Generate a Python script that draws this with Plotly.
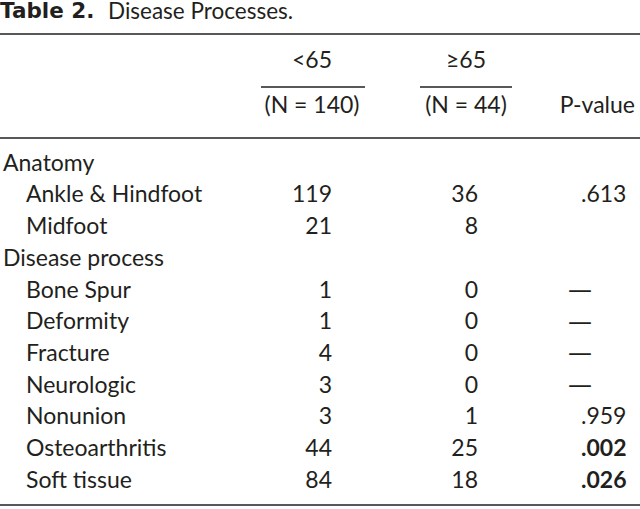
import plotly.graph_objects as go

# ---- data ----
title_bold = "Table 2."
title_text = "Disease Processes."
group_labels = ["<65", "≥65"]
group_n = ["(N = 140)", "(N = 44)"]
p_header = "P-value"

row_labels = ["Anatomy", "Ankle & Hindfoot", "Midfoot", "Disease process",
              "Bone Spur", "Deformity", "Fracture", "Neurologic",
              "Nonunion", "Osteoarthritis", "Soft tissue"]
is_group = [True, False, False, True, False, False, False, False, False, False, False]
under65 = [None, 119, 21, None, 1, 1, 4, 3, 3, 44, 84]
over65 = [None, 36, 8, None, 0, 0, 0, 0, 1, 25, 18]
p_values = ["", ".613", "", "", "—", "—", "—", "—", ".959", ".002", ".026"]
p_bold = [False, False, False, False, False, False, False, False, False, True, True]

# ---- layout constants ----
W, H = 640, 509
FONT = "Lato"
FS = 23
COLOR = "#231f20"
row_top, row_h = 165, 31.7
ys = [row_top + i * row_h for i in range(len(row_labels))]
tf = dict(family=FONT, size=FS, color=COLOR)

fig = go.Figure()

# row labels
fig.add_trace(go.Scatter(
    x=[3 if g else 26 for g in is_group], y=ys, mode="text",
    text=row_labels, textposition="middle right", textfont=tf, hoverinfo="skip"))

# <65 column (right aligned)
idx1 = [i for i, v in enumerate(under65) if v is not None]
fig.add_trace(go.Scatter(
    x=[332] * len(idx1), y=[ys[i] for i in idx1], mode="text",
    text=[str(under65[i]) for i in idx1], textposition="middle left",
    textfont=tf, hoverinfo="skip"))

# >=65 column
idx2 = [i for i, v in enumerate(over65) if v is not None]
fig.add_trace(go.Scatter(
    x=[478] * len(idx2), y=[ys[i] for i in idx2], mode="text",
    text=[str(over65[i]) for i in idx2], textposition="middle left",
    textfont=tf, hoverinfo="skip"))

# P-values: numbers left aligned, dashes centred
num_idx = [i for i, p in enumerate(p_values) if p and p != "—"]
dash_idx = [i for i, p in enumerate(p_values) if p == "—"]
fig.add_trace(go.Scatter(
    x=[581] * len(num_idx), y=[ys[i] for i in num_idx], mode="text",
    text=[("<b>%s</b>" % p_values[i]) if p_bold[i] else p_values[i] for i in num_idx],
    textposition="middle right", textfont=tf, hoverinfo="skip"))
fig.add_trace(go.Scatter(
    x=[580] * len(dash_idx), y=[ys[i] for i in dash_idx], mode="text",
    text=[p_values[i] for i in dash_idx], textposition="middle center",
    textfont=dict(family="DejaVu Sans", size=24, color=COLOR), hoverinfo="skip"))

# header
col_centers = [312, 466]
fig.add_trace(go.Scatter(
    x=col_centers, y=[62, 62], mode="text", text=group_labels,
    textposition="middle center", textfont=tf, hoverinfo="skip"))
fig.add_trace(go.Scatter(
    x=col_centers, y=[107, 107], mode="text", text=group_n,
    textposition="middle center", textfont=tf, hoverinfo="skip"))
fig.add_trace(go.Scatter(
    x=[635], y=[107], mode="text", text=[p_header],
    textposition="middle left", textfont=tf, hoverinfo="skip"))

# title
fig.add_trace(go.Scatter(
    x=[0], y=[13], mode="text", text=["<b>%s</b>" % title_bold],
    textposition="middle right",
    textfont=dict(family="DejaVu Sans", size=21.5, color=COLOR), hoverinfo="skip"))
fig.add_trace(go.Scatter(
    x=[108], y=[13], mode="text", text=[title_text],
    textposition="middle right",
    textfont=dict(family=FONT, size=22.5, color=COLOR), hoverinfo="skip"))

# rules
line = dict(color=COLOR, width=1.6)
for y in (34, 138, 505):
    fig.add_shape(type="line", x0=0, x1=W, y0=y, y1=y, xref="x", yref="y", line=line)
for x0, x1 in ((261, 365), (420, 512)):
    fig.add_shape(type="line", x0=x0, x1=x1, y0=87, y1=87, xref="x", yref="y", line=line)

fig.update_layout(
    width=W, height=H, margin=dict(l=0, r=0, t=0, b=0),
    paper_bgcolor="white", plot_bgcolor="white", showlegend=False,
    xaxis=dict(range=[0, W], visible=False, fixedrange=True),
    yaxis=dict(range=[H, 0], visible=False, fixedrange=True),
)

fig.write_html("out.html", config={"displayModeBar": False},
               post_script="document.body.style.margin='0';document.body.style.overflow='hidden';")
